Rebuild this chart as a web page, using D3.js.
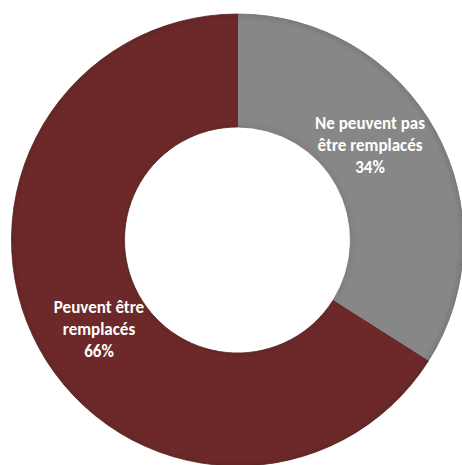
<!DOCTYPE html>
<html>
<head>
<meta charset="utf-8">
<script src="https://cdn.jsdelivr.net/npm/d3@7"></script>
<style>
  html, body { margin: 0; padding: 0; background: #ffffff; }
  svg { display: block; }
</style>
</head>
<body>
<svg id="chart" width="462" height="465"></svg>
<script>
// Share of items that can / cannot be replaced
const categories = ["Ne peuvent pas être remplacés", "Peuvent être remplacés"];
const labelLines = [["Ne peuvent pas", "être remplacés", "34%"], ["Peuvent être", "remplacés", "66%"]];
const values = [34, 66];
const colors = ["#878787", "#6d2929"];

const svg = d3.select("#chart");
const cx = 237.5, cy = 240;
const outerR = 226, innerR = 113;

const pie = d3.pie().sort(null).value(d => d.value);
const arcs = pie(categories.map((c, i) => ({ name: c, value: values[i], lines: labelLines[i], color: colors[i] })));

const arc = d3.arc().innerRadius(innerR).outerRadius(outerR);

const g = svg.append("g").attr("transform", `translate(${cx},${cy})`);

// soft bevel: radial gradient per slice colour
const defs = svg.append("defs");
arcs.forEach((a, i) => {
  const base = d3.color(a.data.color);
  const grad = defs.append("radialGradient")
    .attr("id", "bevel" + i)
    .attr("gradientUnits", "userSpaceOnUse")
    .attr("cx", 0).attr("cy", 0).attr("r", outerR);
  grad.append("stop").attr("offset", innerR / outerR).attr("stop-color", base.darker(0.15));
  grad.append("stop").attr("offset", innerR / outerR + 0.03).attr("stop-color", base);
  grad.append("stop").attr("offset", 0.97).attr("stop-color", base);
  grad.append("stop").attr("offset", 1).attr("stop-color", base.darker(0.25));
});

g.selectAll("path.slice")
  .data(arcs)
  .join("path")
  .attr("class", "slice")
  .attr("d", arc)
  .attr("fill", (d, i) => `url(#bevel${i})`)
  .attr("stroke", (d) => d3.color(d.data.color).darker(0.6))
  .attr("stroke-width", 0.8);

// labels placed near each slice centroid
const labelShift = [[-16, -13], [10, 7]];
const lineH = 22;
const labels = g.selectAll("text.lbl")
  .data(arcs)
  .join("text")
  .attr("class", "lbl")
  .attr("text-anchor", "middle")
  .attr("fill", "#ffffff")
  .attr("font-family", "Carlito, Lato, 'Open Sans', sans-serif")
  .attr("font-weight", "bold")
  .attr("font-size", 17)
  .attr("transform", (d, i) => {
    const c = arc.centroid(d);
    return `translate(${c[0] + labelShift[i][0]},${c[1] + labelShift[i][1]})`;
  });

labels.selectAll("tspan")
  .data(d => d.data.lines.map((t, k, arr) => ({ t, k, n: arr.length })))
  .join("tspan")
  .attr("x", 0)
  .attr("y", d => (d.k - (d.n - 1) / 2) * lineH)
  .attr("dy", "0.35em")
  .text(d => d.t);
</script>
</body>
</html>
